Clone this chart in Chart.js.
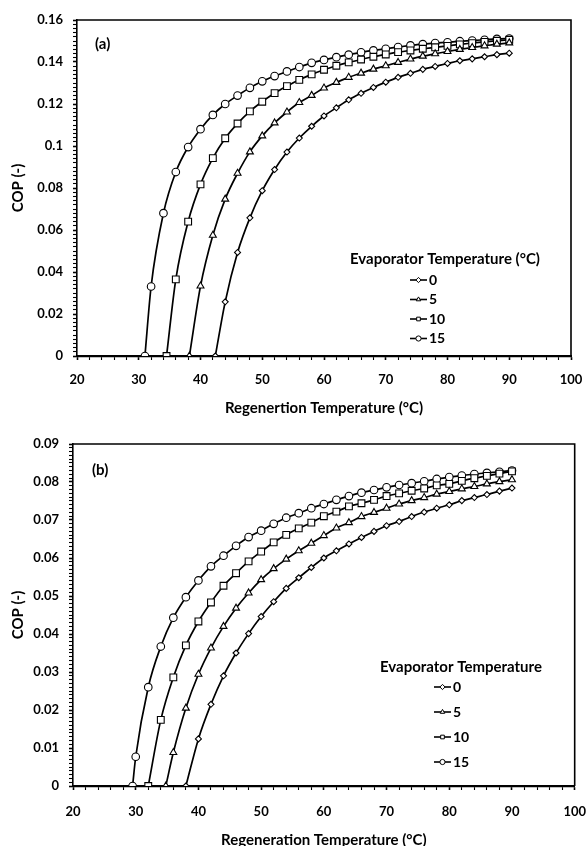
<!DOCTYPE html>
<html><head><meta charset="utf-8">
<script src="https://cdn.jsdelivr.net/npm/chart.js@4.4.0/dist/chart.umd.min.js"></script>
<style>
html,body{margin:0;padding:0;background:#fff;overflow:hidden;width:587px;height:846px;}
#wa{position:absolute;left:0;top:0;width:600px;height:420px;}
#wb{position:absolute;left:0;top:420px;width:600px;height:432px;}
</style></head><body>
<div id="wa"><canvas id="ca" width="600" height="420"></canvas></div>
<div id="wb"><canvas id="cb" width="600" height="432"></canvas></div>
<script>
// ---------- DATA ----------
const seriesLabels = ['0', '5', '10', '15'];

// Chart (a)
const xA0  = [42.4, 44, 46, 48, 50, 52, 54, 56, 58, 60, 62, 64, 66, 68, 70, 72, 74, 76, 78, 80, 82, 84, 86, 88, 90];
const copA0 = [0, 0.0258, 0.0493, 0.0658, 0.0787, 0.0888, 0.0971, 0.1038, 0.1094, 0.1143, 0.1182, 0.1220, 0.1251, 0.1279, 0.1304, 0.1327, 0.1346, 0.1365, 0.1379, 0.1393, 0.1406, 0.1415, 0.1425, 0.1435, 0.1442];
const xA5  = [38.2, 40, 42, 44, 46, 48, 50, 52, 54, 56, 58, 60, 62, 64, 66, 68, 70, 72, 74, 76, 78, 80, 82, 84, 86, 88, 90];
const copA5 = [0, 0.0333, 0.0575, 0.0747, 0.0870, 0.0972, 0.1048, 0.1110, 0.1162, 0.1207, 0.1241, 0.1276, 0.1303, 0.1327, 0.1347, 0.1366, 0.1382, 0.1398, 0.1414, 0.1428, 0.1439, 0.1450, 0.1460, 0.1469, 0.1477, 0.1485, 0.1491];
const xA10 = [34.5, 36, 38, 40, 42, 44, 46, 48, 50, 52, 54, 56, 58, 60, 62, 64, 66, 68, 70, 72, 74, 76, 78, 80, 82, 84, 86, 88, 90];
const copA10 = [0, 0.0365, 0.0640, 0.0817, 0.0942, 0.1037, 0.1107, 0.1165, 0.1211, 0.1252, 0.1285, 0.1315, 0.1341, 0.1363, 0.1382, 0.1398, 0.1412, 0.1425, 0.1436, 0.1447, 0.1455, 0.1463, 0.1470, 0.1477, 0.1484, 0.1490, 0.1496, 0.1501, 0.1506];
const xA15 = [31, 32, 34, 36, 38, 40, 42, 44, 46, 48, 50, 52, 54, 56, 58, 60, 62, 64, 66, 68, 70, 72, 74, 76, 78, 80, 82, 84, 86, 88, 90];
const copA15 = [0, 0.0331, 0.0680, 0.0876, 0.0995, 0.1080, 0.1148, 0.1200, 0.1240, 0.1277, 0.1308, 0.1333, 0.1355, 0.1376, 0.1396, 0.1410, 0.1423, 0.1435, 0.1446, 0.1455, 0.1463, 0.1471, 0.1479, 0.1485, 0.1490, 0.1494, 0.1499, 0.1502, 0.1506, 0.1510, 0.1512];

// Chart (b)
const xB0  = [38, 40, 42, 44, 46, 48, 50, 52, 54, 56, 58, 60, 62, 64, 66, 68, 70, 72, 74, 76, 78, 80, 82, 84, 86, 88, 90];
const copB0 = [0, 0.0124, 0.0215, 0.0290, 0.0350, 0.0401, 0.0446, 0.0485, 0.0520, 0.0548, 0.0575, 0.0600, 0.0619, 0.0637, 0.0654, 0.0670, 0.0685, 0.0696, 0.0709, 0.0721, 0.0731, 0.0740, 0.0751, 0.0759, 0.0767, 0.0776, 0.0784];
const xB5  = [34.8, 36, 38, 40, 42, 44, 46, 48, 50, 52, 54, 56, 58, 60, 62, 64, 66, 68, 70, 72, 74, 76, 78, 80, 82, 84, 86, 88, 90];
const copB5 = [0, 0.0088, 0.0205, 0.0294, 0.0363, 0.0420, 0.0468, 0.0508, 0.0543, 0.0572, 0.0597, 0.0619, 0.0639, 0.0659, 0.0679, 0.0693, 0.0709, 0.0720, 0.0731, 0.0742, 0.0751, 0.0759, 0.0768, 0.0775, 0.0782, 0.0788, 0.0795, 0.0801, 0.0806];
const xB10 = [32, 34, 36, 38, 40, 42, 44, 46, 48, 50, 52, 54, 56, 58, 60, 62, 64, 66, 68, 70, 72, 74, 76, 78, 80, 82, 84, 86, 88, 90];
const copB10 = [0, 0.0174, 0.0286, 0.0370, 0.0433, 0.0483, 0.0527, 0.0560, 0.0591, 0.0617, 0.0641, 0.0661, 0.0678, 0.0693, 0.0710, 0.0722, 0.0736, 0.0744, 0.0753, 0.0763, 0.0770, 0.0777, 0.0783, 0.0791, 0.0795, 0.0803, 0.0810, 0.0816, 0.0822, 0.0828];
const xB15 = [29.5, 30, 32, 34, 36, 38, 40, 42, 44, 46, 48, 50, 52, 54, 56, 58, 60, 62, 64, 66, 68, 70, 72, 74, 76, 78, 80, 82, 84, 86, 88, 90];
const copB15 = [0, 0.0077, 0.0260, 0.0367, 0.0443, 0.0497, 0.0541, 0.0578, 0.0606, 0.0632, 0.0655, 0.0672, 0.0690, 0.0706, 0.0718, 0.0731, 0.0742, 0.0753, 0.0763, 0.0772, 0.0779, 0.0786, 0.0792, 0.0797, 0.0802, 0.0808, 0.0813, 0.0817, 0.0821, 0.0824, 0.0827, 0.0830];

const xTickLabels = ['20', '30', '40', '50', '60', '70', '80', '90', '100'];
const yTickLabelsA = ['0', '0.02', '0.04', '0.06', '0.08', '0.1', '0.12', '0.14', '0.16'];
const yTickLabelsB = ['0', '0.01', '0.02', '0.03', '0.04', '0.05', '0.06', '0.07', '0.08', '0.09'];

// ---------- STYLE ----------
const FONT = 'Lato, "Open Sans", sans-serif';
const pointStyles = ['rectRot', 'triangle', 'rect', 'circle'];
const pointRadii = [3, 4, 4.8, 3.8];

function toPts(xs, ys) { return xs.map((x, i) => ({ x: x, y: ys[i] })); }

function makeDatasets(xsList, ysList) {
  return xsList.map((xs, i) => ({
    label: seriesLabels[i],
    data: toPts(xs, ysList[i]),
    borderColor: '#000',
    borderWidth: 1.7,
    backgroundColor: '#fff',
    pointStyle: pointStyles[i],
    pointRadius: pointRadii[i],
    pointBorderWidth: 1.1,
    pointBorderColor: '#000',
    pointBackgroundColor: '#fff',
    cubicInterpolationMode: 'monotone',
    fill: false
  }));
}

const framePlugin = {
  id: 'frame',
  afterDraw(chart, args, o) {
    const { ctx, chartArea: a } = chart;
    ctx.save();
    ctx.strokeStyle = '#000';
    ctx.lineWidth = 1.6;
    ctx.beginPath();
    ctx.moveTo(a.left, a.top);
    ctx.lineTo(a.right, a.top);
    ctx.lineTo(a.right, a.bottom);
    ctx.stroke();
    // panel tag
    ctx.fillStyle = '#000';
    ctx.font = 'bold 15px ' + FONT;
    ctx.textBaseline = 'middle';
    ctx.textAlign = 'left';
    ctx.fillText(o.tag, o.tagX, o.tagY);
    // legend
    const L = o.legend;
    ctx.fillText(L.title, L.titleX, L.titleY);
    ctx.font = 'bold 14px ' + FONT;
    seriesLabels.forEach((lab, i) => {
      const y = L.rowY + i * L.rowH;
      ctx.lineWidth = 1.6;
      ctx.beginPath();
      ctx.moveTo(L.lineX0, y);
      ctx.lineTo(L.lineX1, y);
      ctx.stroke();
      ctx.lineWidth = 1;
      ctx.fillStyle = '#fff';
      Chart.helpers.drawPoint(ctx, { pointStyle: pointStyles[i], radius: 2.6, borderWidth: 1, rotation: 0 }, (L.lineX0 + L.lineX1) / 2, y);
      ctx.fillStyle = '#000';
      ctx.fillText(lab, L.textX, y);
    });
    ctx.restore();
  }
};

function buildChart(id, datasets, cfg) {
  const isMajorY = v => Math.abs(v / cfg.yMajor - Math.round(v / cfg.yMajor)) < 1e-6;
  const isMajorX = v => Math.abs(v / 10 - Math.round(v / 10)) < 1e-6;
  return new Chart(document.getElementById(id), {
    type: 'line',
    data: { datasets: datasets },
    plugins: [framePlugin],
    options: {
      responsive: false,
      animation: false,
      devicePixelRatio: 1,
      layout: { padding: { left: 0, top: cfg.padTop, right: cfg.padRight, bottom: 0 } },
      plugins: {
        legend: { display: false },
        tooltip: { enabled: false },
        frame: { tag: cfg.tag, tagX: cfg.tagX, tagY: cfg.tagY, legend: cfg.legend }
      },
      scales: {
        x: {
          type: 'linear', min: 20, max: 100,
          afterFit: s => { s.height = cfg.xAxisH; },
          border: { display: true, color: '#000', width: 2.2 },
          grid: { display: true, drawOnChartArea: false, drawTicks: true, tickLength: 4, tickColor: '#000',
                  tickWidth: c => (c.tick && isMajorX(c.tick.value)) ? 1.6 : 1.1 },
          ticks: {
            stepSize: 2, autoSkip: false, maxTicksLimit: 1000, maxRotation: 0, minRotation: 0,
            color: '#000', font: { family: FONT, size: 13, weight: 'bold' }, padding: cfg.xTickPad,
            callback: v => isMajorX(v) ? xTickLabels[Math.round((v - 20) / 10)] : ''
          },
          title: { display: true, text: cfg.xTitle, color: '#000', font: { family: FONT, size: 15, weight: 'bold' },
                   padding: { top: 0, bottom: cfg.xTitlePad } }
        },
        y: {
          type: 'linear', min: 0, max: cfg.yMax,
          afterFit: s => { s.width = cfg.yAxisW; },
          border: { display: true, color: '#000', width: 1.6 },
          grid: { display: true, drawOnChartArea: false, drawTicks: true, tickLength: 4, tickColor: '#000',
                  tickWidth: c => (c.tick && isMajorY(c.tick.value)) ? 1.6 : 1.1 },
          ticks: {
            stepSize: cfg.yMinor, autoSkip: false, maxTicksLimit: 1000,
            color: '#000', font: { family: FONT, size: 13, weight: 'bold' }, padding: cfg.yTickPad,
            callback: v => isMajorY(v) ? cfg.yLabels[Math.round(v / cfg.yMajor)] : ''
          },
          title: { display: true, text: 'COP (-)', color: '#000', font: { family: FONT, size: 15, weight: 'bold' },
                   padding: { top: cfg.yTitlePad, bottom: 0 } }
        }
      }
    }
  });
}

buildChart('ca', makeDatasets([xA0, xA5, xA10, xA15], [copA0, copA5, copA10, copA15]), {
  tag: '(a)', tagX: 95, tagY: 44,
  padTop: 20, padRight: 29, xAxisH: 64, yAxisW: 77,
  xTickPad: 12, yTickPad: 10, xTitlePad: 3, yTitlePad: 9,
  xTitle: 'Regenertion Temperature (°C)',
  yMax: 0.16, yMajor: 0.02, yMinor: 0.002, yLabels: yTickLabelsA,
  legend: { title: 'Evaporator Temperature (°C)', titleX: 350, titleY: 259,
            lineX0: 410, lineX1: 427, textX: 429, rowY: 280, rowH: 19.5 }
});

buildChart('cb', makeDatasets([xB0, xB5, xB10, xB15], [copB0, copB5, copB10, copB15]), {
  tag: '(b)', tagX: 92, tagY: 50,
  padTop: 24, padRight: 24, xAxisH: 66, yAxisW: 73,
  xTickPad: 14, yTickPad: 10, xTitlePad: 3, yTitlePad: 9,
  xTitle: 'Regeneration Temperature (°C)',
  yMax: 0.09, yMajor: 0.01, yMinor: 0.001, yLabels: yTickLabelsB,
  legend: { title: 'Evaporator Temperature', titleX: 380, titleY: 247,
            lineX0: 434, lineX1: 451, textX: 453, rowY: 267, rowH: 25 }
});
</script>
</body></html>
